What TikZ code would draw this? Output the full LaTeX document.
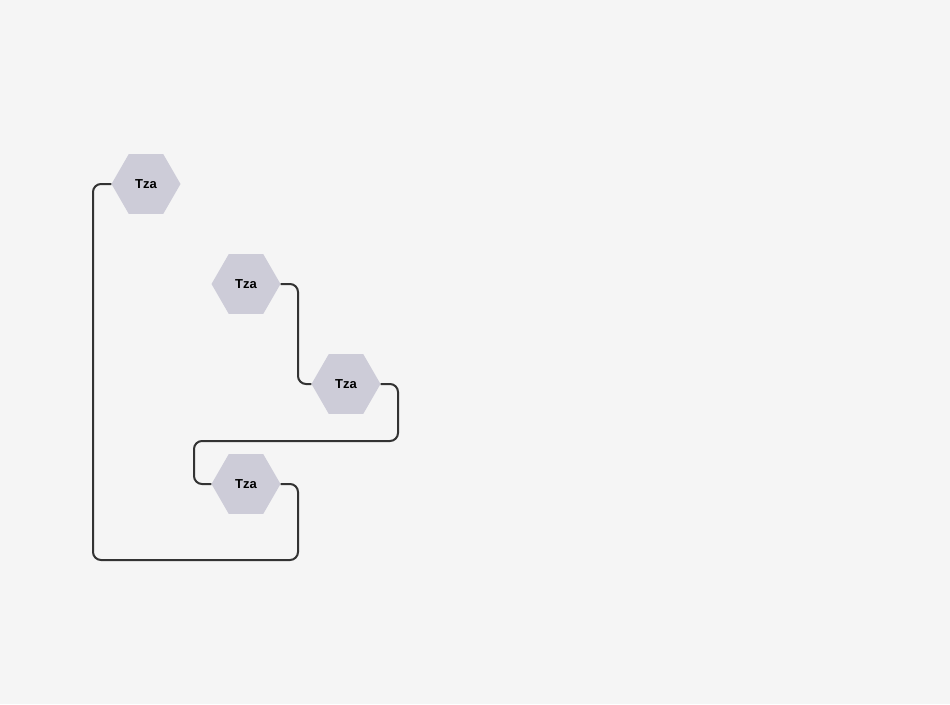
\documentclass[tikz,border=0pt]{standalone}
\usepackage{fontspec}
\setmainfont{Liberation Sans}
\usetikzlibrary{shapes.geometric}
\definecolor{bgc}{HTML}{F5F5F5}
\definecolor{hexc}{HTML}{CDCCD8}
\definecolor{linec}{HTML}{333333}
\tikzset{
  hexnode/.style={regular polygon, regular polygon sides=6, minimum size=69pt, inner sep=0pt,
    fill=hexc, draw=none, font=\fontsize{13}{15}\selectfont\bfseries, text=black},
  conn/.style={draw=linec, line width=2pt, rounded corners=8pt}
}
\begin{document}
\begin{tikzpicture}[x=1pt,y=-1pt]
\fill[bgc] (0,0) rectangle (950,704);
\useasboundingbox (0,0) rectangle (950,704);
\node[hexnode] (h1) at (146,184) {\raisebox{-1pt}{Tza}};
\node[hexnode] (h2) at (246,284) {\raisebox{-1pt}{Tza}};
\node[hexnode] (h3) at (346,384) {\raisebox{-1pt}{Tza}};
\node[hexnode] (h4) at (246,484) {\raisebox{-1pt}{Tza}};
\draw[conn] (h1.west) -- (93,184) -- (93,560) -- (298,560) -- (298,484) -- (h4.east);
\draw[conn] (h2.east) -- (298,284) -- (298,384) -- (h3.west);
\draw[conn] (h3.east) -- (398,384) -- (398,441) -- (194,441) -- (194,484) -- (h4.west);
\end{tikzpicture}
\end{document}
